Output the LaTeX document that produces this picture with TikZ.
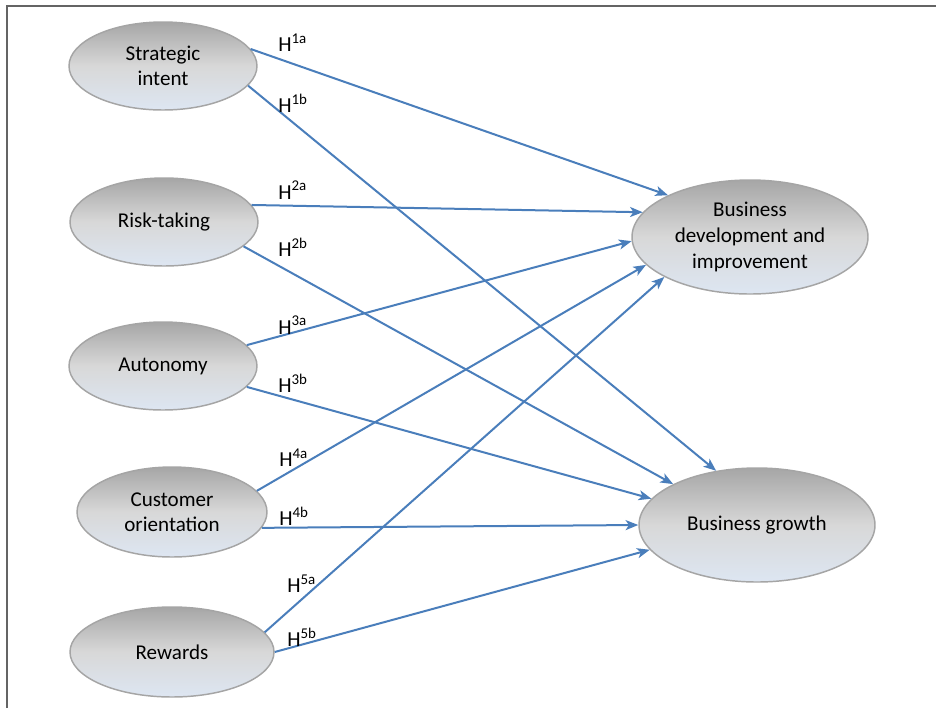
\documentclass[tikz,border=0pt]{standalone}
\usepackage{fontspec}
\setmainfont{Carlito}
\usepackage{xcolor}
\usepackage{tikz}
\usetikzlibrary{shapes.geometric,arrows.meta}

\definecolor{linkblue}{RGB}{74,126,187}
\definecolor{framegray}{RGB}{100,100,100}
\definecolor{rimgray}{RGB}{165,165,165}
\definecolor{shadetop}{RGB}{166,166,166}
\definecolor{shademid}{RGB}{216,216,216}
\definecolor{shadebot}{RGB}{221,230,242}

\begin{document}
\begin{tikzpicture}[x=0.75pt,y=-0.75pt,>={Stealth[length=9.5pt,width=7.5pt,inset=2.5pt]},
  construct/.style={ellipse,draw=rimgray,line width=1.1pt,top color=shadetop,bottom color=shadebot,middle color=shademid,
    align=center,inner sep=0pt,font=\fontsize{15.8}{18.5}\selectfont},
  hyp/.style={->,draw=linkblue,line width=1.5pt},
  hlabel/.style={anchor=west,inner sep=0pt,font=\fontsize{16}{18}\selectfont}]
  \useasboundingbox (0,0) rectangle (936,708);
  \draw[framegray,line width=1.6pt] (7,708) -- (7,6) -- (936,6);
  % Antecedents
  \node[construct,minimum width=141pt,minimum height=66pt] (si) at (163,66) {Strategic\\intent};
  \node[construct,minimum width=141pt,minimum height=66pt] (rt) at (164,222) {Risk-taking};
  \node[construct,minimum width=141pt,minimum height=66pt] (au) at (163,366) {Autonomy};
  \node[construct,minimum width=142.5pt,minimum height=67.5pt] (co) at (172,512) {Customer\\orientation};
  \node[construct,minimum width=153pt,minimum height=67.5pt] (rw) at (172,652) {Rewards};
  % Outcomes
  \node[construct,minimum width=177pt,minimum height=85.5pt,font=\fontsize{15.8}{19.5}\selectfont] (bd) at (750,237) {Business\\development and\\improvement};
  \node[construct,minimum width=177pt,minimum height=85.5pt] (bg) at (757,525) {Business growth};
  % Hypothesised paths
  \draw[hyp] (si.11) -- (bd.153);
  \draw[hyp] (si.-13) -- (bg.127);
  \draw[hyp] (rt.11) -- (bd.167);
  \draw[hyp] (rt.-17) -- (bg.154);
  \draw[hyp] (au.14) -- (bd.182);
  \draw[hyp] (au.-14) -- (bg.166);
  \draw[hyp] (co.14) -- (bd.195);
  \draw[hyp] (co.-10) -- (bg.180);
  \draw[hyp] (rw.12) -- (bd.205);
  \draw[hyp] (rw.0) -- (bg.193);
  % Labels
  \node[hlabel] (h1a) at (278,43) {H\textsuperscript{1a}};
  \node[hlabel] (h1b) at (278,103) {H\textsuperscript{1b}};
  \node[hlabel] (h2a) at (278,190) {H\textsuperscript{2a}};
  \node[hlabel] (h2b) at (278,247) {H\textsuperscript{2b}};
  \node[hlabel] (h3a) at (278,325) {H\textsuperscript{3a}};
  \node[hlabel] (h3b) at (278,383) {H\textsuperscript{3b}};
  \node[hlabel] (h4a) at (279,458) {H\textsuperscript{4a}};
  \node[hlabel] (h4b) at (279,516) {H\textsuperscript{4b}};
  \node[hlabel] (h5a) at (287,584) {H\textsuperscript{5a}};
  \node[hlabel] (h5b) at (287,637) {H\textsuperscript{5b}};
\end{tikzpicture}
\end{document}
